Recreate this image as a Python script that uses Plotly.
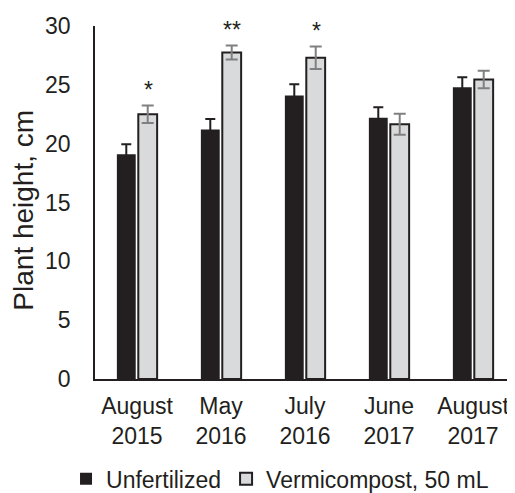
import plotly.graph_objects as go

categories = ["August<br>2015", "May<br>2016", "July<br>2016", "June<br>2017", "August<br>2017"]
unfertilized = [19.1, 21.2, 24.1, 22.2, 24.8]
unfertilized_err = [0.85, 0.9, 0.95, 0.9, 0.85]
vermicompost = [22.5, 27.75, 27.3, 21.65, 25.45]
vermicompost_err = [0.75, 0.6, 0.95, 0.9, 0.75]
significance = ["*", "**", "*", "", ""]
y_ticks = [0, 5, 10, 15, 20, 25, 30]

FONT = "Liberation Sans, Arial, sans-serif"

fig = go.Figure()
fig.add_trace(go.Bar(
    name="Unfertilized", x=categories, y=unfertilized,
    marker=dict(color="#231f20", line=dict(color="#231f20", width=0)),
    error_y=dict(type="data", array=unfertilized_err, visible=True,
                 color="#231f20", thickness=2, width=5),
))
fig.add_trace(go.Bar(
    name="Vermicompost, 50 mL", x=categories, y=vermicompost,
    marker=dict(color="#d9dadb", line=dict(color="#231f20", width=2)),
    error_y=dict(type="data", array=vermicompost_err, visible=True,
                 color="#808080", thickness=2, width=6),
))

for i, s in enumerate(significance):
    if s:
        fig.add_annotation(
            x=i + 0.135, y=vermicompost[i] + vermicompost_err[i] + 1.3,
            xref="x", yref="y", text=s, showarrow=False,
            font=dict(family=FONT, size=23, color="#231f20"),
            yanchor="middle",
        )

# page body has an 8px margin, so the figure is 507x485
fig.update_layout(
    width=507, height=485,
    margin=dict(l=87, r=0, t=18, b=114, autoexpand=False),
    paper_bgcolor="white", plot_bgcolor="white",
    barmode="group", bargap=0.49, bargroupgap=0.12,
    font=dict(family=FONT, size=23, color="#231f20"),
    showlegend=True,
    legend=dict(orientation="h", x=-0.069, xanchor="left",
                y=-0.283, yanchor="middle", bgcolor="rgba(0,0,0,0)",
                font=dict(family=FONT, size=23, color="#231f20"),
                itemwidth=30, traceorder="normal"),
    xaxis=dict(showline=True, linecolor="#231f20", linewidth=1.5,
               range=[-0.5, 4.5], ticks="", showgrid=False, automargin=False,
               ticklabelstandoff=6,
               tickfont=dict(family=FONT, size=23)),
    yaxis=dict(range=[0, 30], tickvals=y_ticks, showline=True, automargin=False,
               linecolor="#231f20", linewidth=1.5, showgrid=False,
               ticks="outside", ticklen=18, tickcolor="rgba(0,0,0,0)",
               zeroline=False,
               title=dict(text="Plant height, cm&nbsp;&nbsp;", standoff=12,
                          font=dict(family=FONT, size=28)),
               tickfont=dict(family=FONT, size=23)),
)

fig.write_html("out.html")
